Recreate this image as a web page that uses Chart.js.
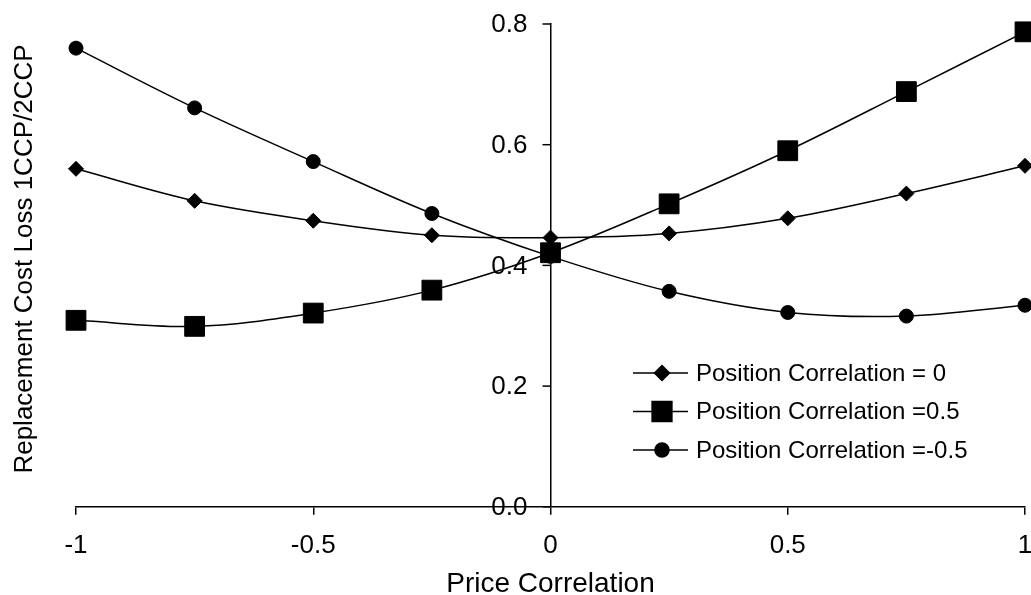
<!DOCTYPE html>
<html>
<head>
<meta charset="utf-8">
<script src="https://cdn.jsdelivr.net/npm/chart.js@4/dist/chart.umd.min.js"></script>
<style>
  html, body { margin: 0; padding: 0; background: #fff; overflow: hidden; }
  #wrap { width: 1031px; height: 595px; position: relative; }
  canvas { display: block; }
</style>
</head>
<body>
<div id="wrap"><canvas id="chart"></canvas></div>
<script>
// price correlation on the x axis
const priceCorr = [-1, -0.75, -0.5, -0.25, 0, 0.25, 0.5, 0.75, 1];

// replacement cost loss ratio, one array per position correlation
const posCorr0 = [0.560, 0.507, 0.474, 0.450, 0.446, 0.453, 0.478, 0.519, 0.565];
const posCorrPlus = [0.309, 0.299, 0.321, 0.359, 0.421, 0.502, 0.590, 0.688, 0.787];
const posCorrMinus = [0.760, 0.661, 0.572, 0.486, 0.415, 0.357, 0.322, 0.316, 0.334];

const seriesNames = ['Position Correlation = 0', 'Position Correlation =0.5', 'Position Correlation =-0.5'];
const xTickLabels = ['-1', '-0.5', '0', '0.5', '1'];
const yTickLabels = ['0.0', '0.2', '0.4', '0.6', '0.8'];

const FONT = "'Liberation Sans', Arial, sans-serif";

function toPoints(ys) {
    return ys.map((y, i) => ({ x: priceCorr[i], y: y }));
}

function makeSet(label, ys, style, radius) {
    return {
        label: label,
        data: toPoints(ys),
        borderColor: '#000',
        backgroundColor: '#000',
        borderWidth: 1.5,
        pointStyle: style,
        pointRadius: radius,
        pointBorderWidth: 1,
        tension: 0.35,
        fill: false,
        clip: false
    };
}

// y tick labels/marks (axis sits at x = 0), axis titles and the legend
const extras = {
    id: 'extras',
    afterDraw(chart) {
        const ctx = chart.ctx;
        const xs = chart.scales.x;
        const ys = chart.scales.y;
        const x0 = xs.getPixelForValue(0);

        ctx.save();
        ctx.strokeStyle = '#000';
        ctx.fillStyle = '#000';
        ctx.lineWidth = 1.5;
        ctx.font = '26px ' + FONT;
        ctx.textAlign = 'right';
        ctx.textBaseline = 'middle';
        ys.ticks.forEach((t, i) => {
            const py = ys.getPixelForValue(t.value);
            ctx.beginPath();
            ctx.moveTo(x0 - 8, py);
            ctx.lineTo(x0, py);
            ctx.stroke();
            ctx.fillText(yTickLabels[i], x0 - 23, py + 1);
        });
        ctx.restore();

        ctx.save();
        ctx.fillStyle = '#000';
        ctx.textAlign = 'center';
        ctx.textBaseline = 'middle';
        ctx.font = '28px ' + FONT;
        ctx.fillText('Price Correlation', x0, 584);
        ctx.font = '26px ' + FONT;
        ctx.translate(25, 259);
        ctx.rotate(-Math.PI / 2);
        ctx.fillText('Replacement Cost Loss 1CCP/2CCP', 0, 0);
        ctx.restore();

        // legend box inside the plot
        const rows = [373, 411.5, 450];
        chart.data.datasets.forEach((ds, i) => {
            const y = rows[i];
            ctx.save();
            ctx.strokeStyle = '#000';
            ctx.lineWidth = 1.5;
            ctx.beginPath();
            ctx.moveTo(633, y);
            ctx.lineTo(688, y);
            ctx.stroke();
            ctx.fillStyle = '#000';
            Chart.helpers.drawPoint(ctx, {
                pointStyle: ds.pointStyle,
                radius: ds.pointRadius,
                borderWidth: 1,
                rotation: 0
            }, 662, y);
            ctx.fill();
            ctx.font = '24px ' + FONT;
            ctx.textAlign = 'left';
            ctx.textBaseline = 'middle';
            ctx.fillText(ds.label, 696, y + 1);
            ctx.restore();
        });
    }
};

new Chart(document.getElementById('chart'), {
    type: 'line',
    data: {
        datasets: [
            makeSet(seriesNames[0], posCorr0, 'rectRot', 7.5),
            makeSet(seriesNames[1], posCorrPlus, 'rect', 14),
            makeSet(seriesNames[2], posCorrMinus, 'circle', 7)
        ]
    },
    options: {
        responsive: true,
        maintainAspectRatio: false,
        animation: false,
        layout: { autoPadding: false, padding: { left: 76, right: 6, top: 24, bottom: 19 } },
        plugins: {
            legend: { display: false },
            tooltip: { enabled: false }
        },
        scales: {
            x: {
                type: 'linear',
                position: 'bottom',
                min: -1,
                max: 1,
                afterFit: (s) => { s.paddingLeft = 0; s.paddingRight = 0; },
                border: { display: true, color: '#000', width: 1.5 },
                grid: { display: true, drawOnChartArea: false, drawTicks: true, tickLength: 8, color: '#000', lineWidth: 1.5 },
                ticks: {
                    stepSize: 0.5,
                    padding: 15,
                    color: '#000',
                    font: { family: FONT, size: 26 },
                    maxRotation: 0,
                    callback: (v) => xTickLabels[Math.round((v + 1) / 0.5)]
                }
            },
            y: {
                type: 'linear',
                position: { x: 0 },
                min: 0,
                max: 0.8,
                afterFit: (s) => { s.width = 0; s.paddingTop = 0; s.paddingBottom = 0; },
                border: { display: true, color: '#000', width: 1.5 },
                grid: { display: false },
                ticks: { stepSize: 0.2, display: false }
            }
        }
    },
    plugins: [extras]
});
</script>
</body>
</html>
